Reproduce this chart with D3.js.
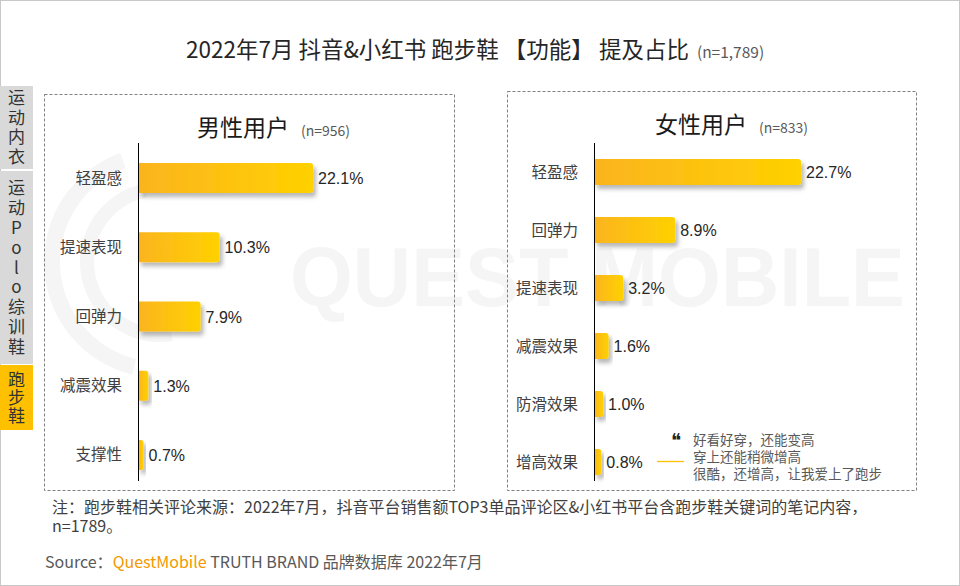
<!DOCTYPE html>
<html><head><meta charset="utf-8">
<script src="https://cdn.jsdelivr.net/npm/d3@7"></script>
<style>
html,body{margin:0;padding:0;background:#fff;}
svg{display:block;}
text{font-family:"Noto Sans CJK SC","Noto Sans",sans-serif;}
</style></head>
<body><svg id="c" width="960" height="586"></svg>
<script>
// ---------- data ----------
const titleMain = "2022年7月 抖音&小红书 跑步鞋 【功能】 提及占比";
const titleN = "(n=1,789)";
const maleTitle = "男性用户", maleN = "(n=956)";
const femaleTitle = "女性用户", femaleN = "(n=833)";
const maleCategories = ["轻盈感", "提速表现", "回弹力", "减震效果", "支撑性"];
const maleValues = [22.1, 10.3, 7.9, 1.3, 0.7];
const femaleCategories = ["轻盈感", "回弹力", "提速表现", "减震效果", "防滑效果", "增高效果"];
const femaleValues = [22.7, 8.9, 3.2, 1.6, 1.0, 0.8];
const sideTabs = [["运","动","内","衣"], ["运","动","P","o","l","o","综","训","鞋"], ["跑","步","鞋"]];
const activeTab = 2;
const quoteLines = ["好看好穿，还能变高", "穿上还能稍微增高", "很酷，还增高，让我爱上了跑步"];
const noteLines = ["注：跑步鞋相关评论来源：2022年7月，抖音平台销售额TOP3单品评论区&小红书平台含跑步鞋关键词的笔记内容，", "n=1789。"];
const sourceParts = ["Source：", "QuestMobile", " TRUTH BRAND 品牌数据库 2022年7月"];

// ---------- drawing ----------
const svg = d3.select("#c");
const defs = svg.append("defs");
const grad = defs.append("linearGradient").attr("id","barGrad").attr("x1","0").attr("x2","1").attr("y1","0").attr("y2","0");
grad.append("stop").attr("offset","0%").attr("stop-color","#fbb41f");
grad.append("stop").attr("offset","100%").attr("stop-color","#ffd100");
const f = defs.append("filter").attr("id","shadow").attr("x","-20%").attr("y","-30%").attr("width","150%").attr("height","190%");
f.append("feDropShadow").attr("dx",3).attr("dy",4).attr("stdDeviation",2).attr("flood-color","#000").attr("flood-opacity",0.28);

// outer frame
svg.append("rect").attr("x",0.5).attr("y",0.5).attr("width",959).attr("height",585).attr("fill","#fff").attr("stroke","#c8c8c8");

// watermark
const arc = d3.arc();
svg.append("path").attr("transform","translate(160,262)")
  .attr("d", arc({innerRadius:100, outerRadius:116, startAngle:-0.35, endAngle:-2.9}))
  .attr("fill","#f5f5f5");
svg.append("path").attr("transform","translate(160,262)")
  .attr("d", arc({innerRadius:66, outerRadius:80, startAngle:-0.2, endAngle:-3.3}))
  .attr("fill","#f5f5f5");
svg.append("text").attr("x",290).attr("y",306)
  .attr("font-size",84).attr("font-weight",700).attr("fill","#f5f5f5").attr("textLength",615).attr("lengthAdjust","spacingAndGlyphs")
  .style("font-family","Liberation Sans, Arial, sans-serif").text("QUEST MOBILE");

// title
const tt = svg.append("text").attr("x",186).attr("y",58).attr("fill","#262626");
tt.append("tspan").attr("font-size",22.5).text(titleMain);
tt.append("tspan").attr("dx",8).attr("font-size",15.5).attr("fill","#595959").text(titleN);

// side tabs
const tabBounds = [[86,169],[171,364],[365,430]];
const tabStep = [19.5, 19.9, 18];
sideTabs.forEach((chars,i)=>{
  const [y0,y1] = tabBounds[i];
  svg.append("rect").attr("x",0).attr("y",y0).attr("width",33).attr("height",y1-y0)
    .attr("fill", i===activeTab ? "#ffc000" : "#d9d9d9");
  const mid = (y0+y1)/2;
  chars.forEach((c,j)=>{
    svg.append("text").attr("x",16.5).attr("y", mid + (j-(chars.length-1)/2)*tabStep[i] + 6)
      .attr("text-anchor","middle").attr("font-size",17).attr("fill","#333").text(c);
  });
});

// panels
function panel(opt){
  const g = svg.append("g");
  g.append("rect").attr("x",opt.box[0]+0.5).attr("y",opt.box[1]+0.5).attr("width",opt.box[2]).attr("height",opt.box[3])
    .attr("fill","none").attr("stroke","#7f7f7f").attr("stroke-dasharray","3,2");
  const pt = g.append("text").attr("x",opt.titleX).attr("y",opt.titleY).attr("fill","#1a1a1a");
  pt.append("tspan").attr("font-size",23).attr("font-weight",400).text(opt.title);
  pt.append("tspan").attr("dx",12).attr("font-size",14).attr("fill","#595959").text(opt.n);

  const x = d3.scaleLinear().domain([0,25]).range([opt.axisX, opt.axisX + opt.pxPer25]);
  const y = d3.scalePoint().domain(opt.cats).range(opt.yRange).padding(0.5);
  const h = opt.barH, r = 3;
  const data = opt.cats.map((c,i)=>({c, v:opt.vals[i]}));
  g.selectAll("path.bar").data(data).enter().append("path").attr("class","bar")
    .attr("fill","url(#barGrad)").attr("filter","url(#shadow)")
    .attr("d", d=>{
      const x0 = x(0), x1 = x(d.v), y0 = y(d.c)-h/2, rr = Math.min(r,(x1-x0)/2);
      return `M${x0},${y0}H${x1-rr}Q${x1},${y0} ${x1},${y0+rr}V${y0+h-rr}Q${x1},${y0+h} ${x1-rr},${y0+h}H${x0}Z`;
    });
  g.append("line").attr("x1",opt.axisX+0.5).attr("x2",opt.axisX+0.5).attr("y1",opt.axisY[0]).attr("y2",opt.axisY[1])
    .attr("stroke","#000").attr("stroke-width",1);
  g.selectAll("text.cat").data(data).enter().append("text").attr("class","cat")
    .attr("x",opt.axisX-16).attr("y",d=>y(d.c)+5.5).attr("text-anchor","end")
    .attr("font-size",15.5).attr("fill","#404040").text(d=>d.c);
  g.selectAll("text.val").data(data).enter().append("text").attr("class","val")
    .attr("x",d=>x(d.v)+5).attr("y",d=>y(d.c)+6).attr("font-size",16)
    .style("font-family","Liberation Sans, Arial, sans-serif").attr("fill","#262626")
    .text(d=>d.v.toFixed(1)+"%");
  return {g,x,y};
}

panel({box:[44,94,410,396], title:maleTitle, n:maleN, titleX:197, titleY:136,
  cats:maleCategories, vals:maleValues, axisX:138, pxPer25:198, yRange:[143.4,489.6], barH:30, axisY:[143,481]});
const fp = panel({box:[507,91,409,399], title:femaleTitle, n:femaleN, titleX:655, titleY:133,
  cats:femaleCategories, vals:femaleValues, axisX:594, pxPer25:228, yRange:[143,491], barH:26, axisY:[143,481]});

// quote annotation
const lastC = femaleCategories[femaleCategories.length-1];
const qy = fp.y(lastC);
svg.append("line").attr("x1",657).attr("x2",684).attr("y1",qy-0.5).attr("y2",qy-0.5).attr("stroke","#ffc000").attr("stroke-width",1.3);
svg.append("text").attr("x",671).attr("y",qy-15).attr("font-size",19).attr("fill","#262626")
  .style("font-family","DejaVu Sans, sans-serif").text("\u275D");
quoteLines.forEach((l,i)=>{
  svg.append("text").attr("x",693).attr("y",qy-17+i*17).attr("font-size",13.5).attr("fill","#595959").text(l);
});

// footer
noteLines.forEach((l,i)=>{
  svg.append("text").attr("x",52).attr("y",513+i*19).attr("font-size",16).attr("fill","#404040").text(l);
});
const st = svg.append("text").attr("x",45).attr("y",568).attr("font-size",16).attr("fill","#595959");
st.append("tspan").text(sourceParts[0]);
st.append("tspan").attr("fill","#f39800").text(sourceParts[1]);
st.append("tspan").text(sourceParts[2]);
</script></body></html>
